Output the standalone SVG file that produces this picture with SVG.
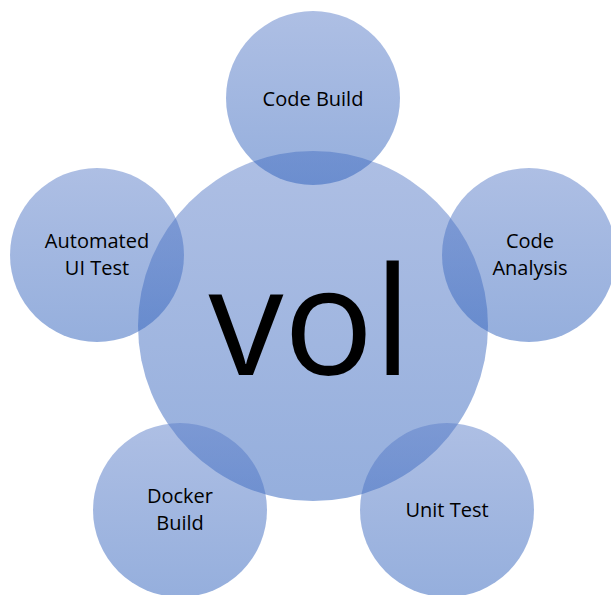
<svg xmlns="http://www.w3.org/2000/svg" width="611" height="595" viewBox="0 0 611 595">
  <defs>
    <!-- shared translucent blue fill, lighter at top -->
    <linearGradient id="blueFill" x1="0" y1="0" x2="0" y2="1">
      <stop offset="0" stop-color="#5d7fc9"/>
      <stop offset="1" stop-color="#2c5fbb"/>
    </linearGradient>
  </defs>
  <style>
    .bubble { fill: url(#blueFill); fill-opacity: 0.5; stroke: none; }
    .label { font-family: "Open Sans", "Liberation Sans", sans-serif; font-size: 20px; fill: #000; text-anchor: middle; }
    .hub { font-family: "Open Sans", "Liberation Sans", sans-serif; font-size: 150px; fill: #000; text-anchor: middle; }
  </style>

  <rect width="611" height="595" fill="#ffffff"/>

  <g id="hub">
    <circle class="bubble" cx="313" cy="326" r="175"/>
  </g>
  <g id="code-build">
    <circle class="bubble" cx="313" cy="98" r="87"/>
  </g>
  <g id="code-analysis">
    <circle class="bubble" cx="529" cy="255" r="87"/>
  </g>
  <g id="unit-test">
    <circle class="bubble" cx="447" cy="510" r="87"/>
  </g>
  <g id="docker-build">
    <circle class="bubble" cx="180" cy="510" r="87"/>
  </g>
  <g id="automated-ui-test">
    <circle class="bubble" cx="97" cy="255" r="87"/>
  </g>

  <g id="labels">
    <text class="hub" x="310" y="375">vol</text>
    <text class="label" x="313" y="106">Code Build</text>
    <text class="label" x="530" y="248">Code</text>
    <text class="label" x="530" y="275">Analysis</text>
    <text class="label" x="447" y="517">Unit Test</text>
    <text class="label" x="180" y="503">Docker</text>
    <text class="label" x="180" y="530">Build</text>
    <text class="label" x="97" y="248">Automated</text>
    <text class="label" x="97" y="275">UI Test</text>
  </g>
  <g id="connectors"/>
</svg>
